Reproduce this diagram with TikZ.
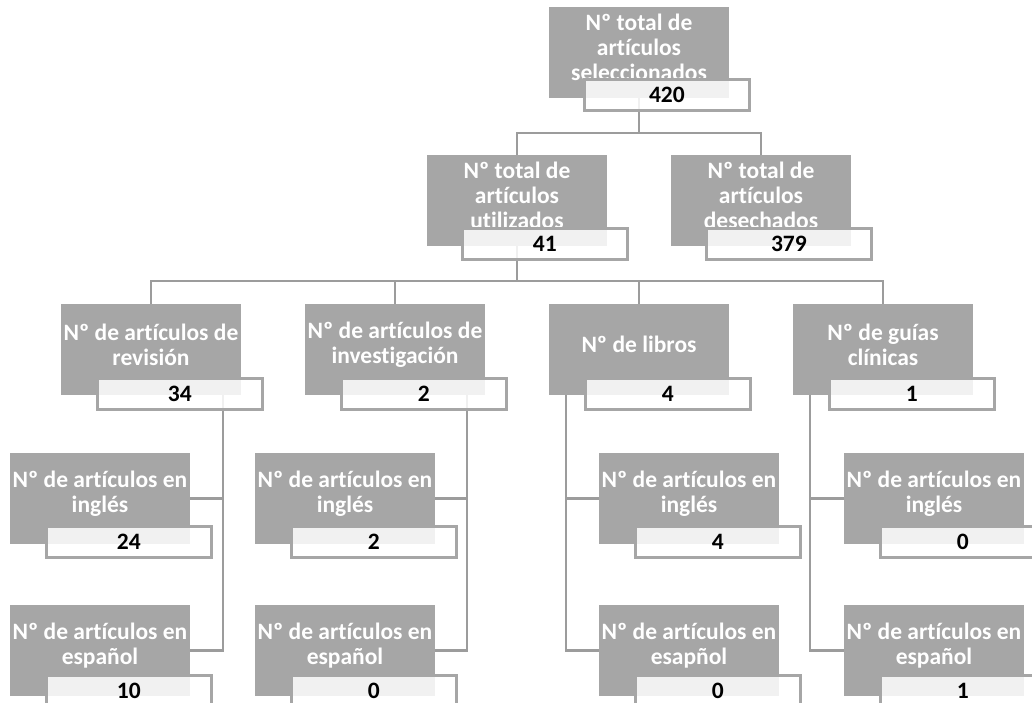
\documentclass[tikz,border=0pt]{standalone}
\usepackage{fontspec}
\setmainfont{Carlito}[Ligatures=NoCommon]
\definecolor{boxgray}{HTML}{A6A6A6}
\definecolor{linegray}{HTML}{9C9C9C}
\begin{document}
\begin{tikzpicture}[x=1pt, y=-1pt,
    graybox/.style={fill=boxgray, minimum width=180pt, minimum height=91pt, inner sep=0pt, outer sep=0pt, anchor=north west},
    boxtext/.style={text=white, font=\bfseries\fontsize{23.5}{25}\selectfont, align=center, inner sep=0pt},
    numbox/.style={draw=boxgray, line width=2.8pt, fill=white, fill opacity=0.85, text opacity=1, minimum width=165pt, minimum height=31pt, inner sep=0pt, font=\bfseries\fontsize{23.5}{25}\selectfont, anchor=north west},
    link/.style={draw=linegray, line width=2.8pt}]
    \useasboundingbox (0,0) rectangle (1032,703);

    \node[graybox](sel) at (549, 7) {};
    \node[boxtext](sel-t) at ([yshift=5pt]sel.center) {Nº total de\\artículos\\seleccionados};

    \node[graybox](uti) at (427, 155) {};
    \node[boxtext](uti-t) at ([yshift=5pt]uti.center) {Nº total de\\artículos\\utilizados};
    \node[graybox](des) at (671, 155) {};
    \node[boxtext](des-t) at ([yshift=5pt]des.center) {Nº total de\\artículos\\desechados};

    \node[graybox](rev) at (61, 304) {};
    \node[boxtext](rev-t) at ([yshift=5pt]rev.center) {Nº de artículos de\\revisión};
    \node[graybox](inv) at (305, 304) {};
    \node[boxtext](inv-t) at ([yshift=5pt]inv.center) {Nº de artículos de\\investigación};
    \node[graybox](lib) at (549, 304) {};
    \node[boxtext](lib-t) at ([yshift=5pt]lib.center) {Nº de libros};
    \node[graybox](gui) at (793, 304) {};
    \node[boxtext](gui-t) at ([yshift=5pt]gui.center) {Nº de guías\\clínicas};

    \node[graybox](rev_ing) at (10, 453) {};
    \node[boxtext](rev_ing-t) at ([yshift=5pt]rev_ing.center) {Nº de artículos en\\inglés};
    \node[graybox](inv_ing) at (255, 453) {};
    \node[boxtext](inv_ing-t) at ([yshift=5pt]inv_ing.center) {Nº de artículos en\\inglés};
    \node[graybox](lib_ing) at (599, 453) {};
    \node[boxtext](lib_ing-t) at ([yshift=5pt]lib_ing.center) {Nº de artículos en\\inglés};
    \node[graybox](gui_ing) at (844, 453) {};
    \node[boxtext](gui_ing-t) at ([yshift=5pt]gui_ing.center) {Nº de artículos en\\inglés};

    \node[graybox](rev_esp) at (10, 605) {};
    \node[boxtext](rev_esp-t) at ([yshift=5pt]rev_esp.center) {Nº de artículos en\\español};
    \node[graybox](inv_esp) at (255, 605) {};
    \node[boxtext](inv_esp-t) at ([yshift=5pt]inv_esp.center) {Nº de artículos en\\español};
    \node[graybox](lib_esp) at (599, 605) {};
    \node[boxtext](lib_esp-t) at ([yshift=5pt]lib_esp.center) {Nº de artículos en\\esapñol};
    \node[graybox](gui_esp) at (844, 605) {};
    \node[boxtext](gui_esp-t) at ([yshift=5pt]gui_esp.center) {Nº de artículos en\\español};

    % connectors
    \path[link] (sel.south) -- ++(0,35) -| (uti.north);
    \path[link] (sel.south) -- ++(0,35) -| (des.north);
    \path[link] (uti.south) -- ++(0,35) -| (rev.north);
    \path[link] (uti.south) -- ++(0,35) -| (inv.north);
    \path[link] (uti.south) -- ++(0,35) -| (lib.north);
    \path[link] (uti.south) -- ++(0,35) -| (gui.north);

    \path[link] ([xshift=162pt]rev.south west) |- (rev_ing.east);
    \path[link] ([xshift=162pt]rev.south west) |- (rev_esp.east);
    \path[link] ([xshift=162pt]inv.south west) |- (inv_ing.east);
    \path[link] ([xshift=162pt]inv.south west) |- (inv_esp.east);
    \path[link] ([xshift=17pt]lib.south west) |- (lib_ing.west);
    \path[link] ([xshift=17pt]lib.south west) |- (lib_esp.west);
    \path[link] ([xshift=17pt]gui.south west) |- (gui_ing.west);
    \path[link] ([xshift=17pt]gui.south west) |- (gui_esp.west);

    % counts
    \node[numbox](sel-n) at (583, 78) {420};
    \node[numbox](uti-n) at (461, 227) {41};
    \node[numbox](des-n) at (705, 227) {379};
    \node[numbox](rev-n) at (96, 377) {34};
    \node[numbox](inv-n) at (340, 377) {2};
    \node[numbox](lib-n) at (584, 377) {4};
    \node[numbox](gui-n) at (828, 377) {1};
    \node[numbox](rev_ing-n) at (45, 525) {24};
    \node[numbox](inv_ing-n) at (290, 525) {2};
    \node[numbox](lib_ing-n) at (634, 525) {4};
    \node[numbox](gui_ing-n) at (879, 525) {0};
    \node[numbox](rev_esp-n) at (45, 674) {10};
    \node[numbox](inv_esp-n) at (290, 674) {0};
    \node[numbox](lib_esp-n) at (634, 674) {0};
    \node[numbox](gui_esp-n) at (879, 674) {1};

\end{tikzpicture}
\end{document}
